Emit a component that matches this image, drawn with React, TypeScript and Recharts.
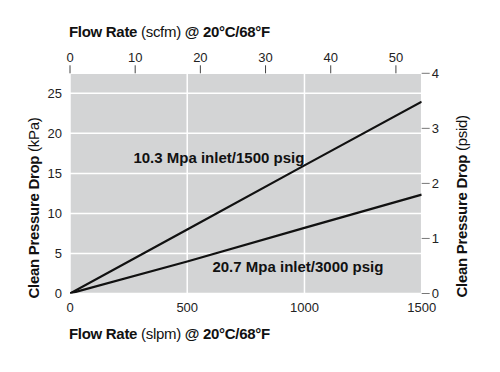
// Clean pressure drop vs flow rate, two inlet pressures, dual unit axes.

import {
  LineChart,
  Line,
  XAxis,
  YAxis,
  CartesianGrid,
  ReferenceDot,
  Label,
} from "recharts";

const flowSlpm = [0, 500, 1000, 1500];
const drop1500psig = [0, 8.0, 16.0, 23.95]; // kPa
const drop3000psig = [0, 4.0, 8.2, 12.35]; // kPa

const slpmTicks = [0, 500, 1000, 1500];
const scfmTicks = [0, 10, 20, 30, 40, 50];
const kpaTicks = [0, 5, 10, 15, 20, 25];
const psidTicks = [0, 1, 2, 3, 4];

const SLPM_PER_SCFM = 27.8;

const curveNames = ["10.3 Mpa inlet/1500 psig", "20.7 Mpa inlet/3000 psig"];
const curveNameAt = [
  { slpm: 635, kpa: 17 },
  { slpm: 972, kpa: 3.3 },
];

const FONT = "'Liberation Sans', Arial, Helvetica, sans-serif";
const NARROW = "'Liberation Sans Narrow', 'Liberation Sans', Arial, sans-serif";
const tickStyle = { fill: "#222", fontSize: 13, fontFamily: FONT };
const titleProps = { fontSize: 15, fontFamily: FONT, fill: "#111", letterSpacing: -0.3 };

function FlowTitle({ unit }: { unit: string }) {
  return (
    <>
      <tspan fontWeight={700}>Flow Rate</tspan>
      <tspan fontWeight={400}> ({unit}) </tspan>
      <tspan fontWeight={700}>@ 20°C/68°F</tspan>
    </>
  );
}

function DropTitle({ unit }: { unit: string }) {
  return (
    <>
      <tspan fontWeight={700}>Clean Pressure Drop</tspan>
      <tspan fontWeight={400}> ({unit})</tspan>
    </>
  );
}

export default function App() {
  const data = flowSlpm.map((slpm, i) => ({
    slpm,
    p1500: drop1500psig[i],
    p3000: drop3000psig[i],
  }));

  return (
    <div style={{ position: "absolute", left: 0, top: 0, background: "#fff" }}>
      <LineChart
        width={500}
        height={372}
        data={data}
        margin={{ top: 0, right: 0, bottom: 0, left: 0 }}
      >
        <CartesianGrid fill="#d3d4d5" stroke="#fff" strokeWidth={1.5} />
        <XAxis
          dataKey="slpm"
          type="number"
          domain={[0, 1500]}
          ticks={slpmTicks}
          allowDataOverflow
          height={78.5}
          tickLine={false}
          axisLine={false}
          tickMargin={3}
          tick={tickStyle}
        >
          <Label
            content={({ viewBox }: any) => (
              <text x={viewBox.x - 1} y={viewBox.y + 45} {...titleProps}>
                <FlowTitle unit="slpm" />
              </text>
            )}
          />
        </XAxis>
        <XAxis
          xAxisId="scfm"
          orientation="top"
          dataKey="slpm"
          type="number"
          domain={[0, 1500]}
          ticks={scfmTicks.map((v) => v * SLPM_PER_SCFM)}
          tickFormatter={(v: number) => String(Math.round(v / SLPM_PER_SCFM))}
          interval={0}
          allowDataOverflow
          height={73.3}
          axisLine={false}
          tickLine={{ stroke: "#444" }}
          tickSize={8}
          tickMargin={3}
          tick={tickStyle}
        >
          <Label
            content={({ viewBox }: any) => (
              <text x={viewBox.x - 1} y={37} {...titleProps}>
                <FlowTitle unit="scfm" />
              </text>
            )}
          />
        </XAxis>
        <YAxis
          type="number"
          domain={[0, 27.5]}
          ticks={kpaTicks}
          allowDataOverflow
          width={70}
          tickLine={false}
          axisLine={false}
          tick={tickStyle}
        >
          <Label
            content={({ viewBox }: any) => {
              const x = 39;
              const y = viewBox.y + viewBox.height + 5;
              return (
                <text x={x} y={y} transform={`rotate(-90, ${x}, ${y})`} {...titleProps}>
                  <DropTitle unit="kPa" />
                </text>
              );
            }}
          />
        </YAxis>
        <YAxis
          yAxisId="psid"
          orientation="right"
          type="number"
          domain={[0, 4]}
          ticks={psidTicks}
          allowDataOverflow
          width={78.3}
          axisLine={false}
          tickLine={{ stroke: "#777" }}
          tickSize={8}
          tickMargin={2}
          tick={tickStyle}
        >
          <Label
            content={({ viewBox }: any) => {
              const x = viewBox.x + 45;
              const y = viewBox.y + viewBox.height + 4;
              return (
                <text x={x} y={y} transform={`rotate(-90, ${x}, ${y})`} {...titleProps}>
                  <DropTitle unit="psid" />
                </text>
              );
            }}
          />
        </YAxis>
        <Line
          dataKey="p1500"
          type="linear"
          stroke="#111"
          strokeWidth={2.2}
          dot={false}
          isAnimationActive={false}
        />
        <Line
          dataKey="p3000"
          type="linear"
          stroke="#111"
          strokeWidth={2.2}
          dot={false}
          isAnimationActive={false}
        />
        {curveNames.map((name, i) => (
          <ReferenceDot
            key={name}
            x={curveNameAt[i].slpm}
            y={curveNameAt[i].kpa}
            r={0}
            fill="none"
            stroke="none"
            label={{
              value: name,
              position: "center",
              fill: "#111",
              fontSize: 15,
              fontWeight: 700,
              fontFamily: NARROW,
            }}
          />
        ))}
      </LineChart>
    </div>
  );
}
